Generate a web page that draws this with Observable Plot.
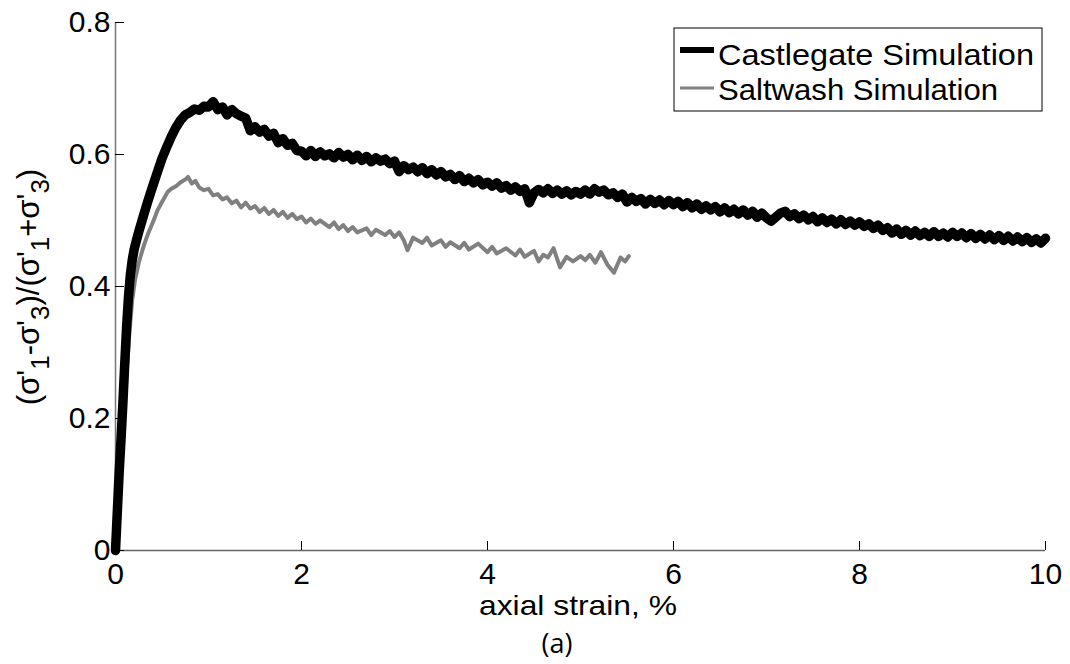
<!DOCTYPE html>
<html><head><meta charset="utf-8">
<script src="https://cdn.jsdelivr.net/npm/d3@7"></script>
<script src="https://cdn.jsdelivr.net/npm/@observablehq/plot@0.6"></script>
<style>
body{margin:0;background:#fff;width:1070px;height:664px;position:relative;overflow:hidden}
#cap{position:absolute;left:557px;top:627px;transform:translateX(-50%);font-family:"Open Sans",sans-serif;font-size:27px;line-height:32px;color:#000}
</style></head><body><div id="chart"></div><div id="cap">(a)</div>
<script>
const seriesNames = ["Castlegate Simulation", "Saltwash Simulation"];
const xTicks = [0, 2, 4, 6, 8, 10];
const yTicks = [0, 0.2, 0.4, 0.6, 0.8];

const castlegateStrain = [0,0.01,0.02,0.04,0.06,0.08,0.10,0.12,0.14,0.16,0.18,0.20,0.225,0.25,0.30,0.35,0.40,0.45,0.50,0.55,0.60,0.65,0.70,0.75,0.80,0.85,0.90,0.95,1.00,1.05,1.10,1.15,1.20,1.25,1.30,1.35,1.40,1.45,1.50,1.55,1.60,1.65,1.70,1.75,1.80,1.85,1.90,1.95,
2.00,2.05,2.10,2.15,2.20,2.25,2.30,2.35,2.40,2.45,2.50,2.55,2.60,2.65,2.70,2.75,2.80,2.85,2.90,2.95,
3.00,3.05,3.10,3.15,3.20,3.25,3.30,3.35,3.40,3.45,3.50,3.55,3.60,3.65,3.70,3.75,3.80,3.85,3.90,3.95,
4.00,4.05,4.10,4.15,4.20,4.25,4.30,4.35,4.40,4.45,4.50,4.55,4.60,4.65,4.70,4.75,4.80,4.85,4.90,4.95,
5.00,5.05,5.10,5.15,5.20,5.25,5.30,5.35,5.40,5.45,5.50,5.55,5.60,5.65,5.70,5.75,5.80,5.85,5.90,5.95,
6.00,6.05,6.10,6.15,6.20,6.25,6.30,6.35,6.40,6.45,6.50,6.55,6.60,6.65,6.70,6.75,6.80,6.85,6.90,6.95,
7.00,7.05,7.10,7.15,7.20,7.25,7.30,7.35,7.40,7.45,7.50,7.55,7.60,7.65,7.70,7.75,7.80,7.85,7.90,7.95,
8.00,8.05,8.10,8.15,8.20,8.25,8.30,8.35,8.40,8.45,8.50,8.55,8.60,8.65,8.70,8.75,8.80,8.85,8.90,8.95,
9.00,9.05,9.10,9.15,9.20,9.25,9.30,9.35,9.40,9.45,9.50,9.55,9.60,9.65,9.70,9.75,9.80,9.85,9.90,9.95,10.00];
const castlegateRatio = [0,0.03,0.06,0.12,0.17,0.225,0.285,0.34,0.385,0.418,0.44,0.456,0.47,0.483,0.507,0.53,0.552,0.573,0.594,0.611,0.627,0.641,0.652,0.660,0.664,0.669,0.667,0.673,0.672,0.680,0.668,0.672,0.660,0.668,0.662,0.658,0.655,0.636,0.642,0.634,0.638,0.628,0.632,0.618,0.624,0.614,0.617,0.606,
0.605,0.598,0.606,0.597,0.604,0.598,0.601,0.595,0.603,0.596,0.600,0.592,0.599,0.591,0.597,0.589,0.595,0.590,0.593,0.586,
0.590,0.574,0.583,0.577,0.581,0.574,0.580,0.571,0.577,0.569,0.574,0.566,0.570,0.562,0.568,0.559,0.564,0.557,0.562,0.554,
0.558,0.552,0.557,0.549,0.553,0.546,0.551,0.544,0.548,0.527,0.542,0.547,0.542,0.548,0.541,0.546,0.540,0.545,0.539,0.544,
0.540,0.546,0.540,0.548,0.543,0.546,0.539,0.542,0.535,0.540,0.528,0.535,0.529,0.533,0.525,0.532,0.526,0.531,0.524,0.530,
0.524,0.529,0.521,0.527,0.519,0.525,0.517,0.522,0.516,0.521,0.513,0.519,0.512,0.517,0.510,0.516,0.508,0.514,0.505,0.511,
0.504,0.499,0.505,0.511,0.514,0.506,0.510,0.503,0.508,0.501,0.506,0.498,0.504,0.497,0.502,0.495,0.501,0.494,0.499,0.493,
0.498,0.491,0.495,0.488,0.493,0.485,0.489,0.481,0.487,0.479,0.485,0.478,0.484,0.477,0.482,0.476,0.483,0.476,0.481,0.475,
0.482,0.476,0.481,0.474,0.480,0.473,0.479,0.472,0.478,0.471,0.477,0.470,0.476,0.469,0.475,0.468,0.474,0.467,0.472,0.466,0.473];

const saltwashStrain = [0,0.02,0.04,0.06,0.09,0.12,0.15,0.18,0.21,0.25,0.30,0.35,0.41,0.45,0.50,0.56,0.60,0.65,0.70,0.75,0.78,0.82,0.86,0.90,0.95,1.00,1.05,1.10,1.15,1.20,1.25,1.30,1.35,1.40,1.45,1.50,1.55,1.60,1.65,1.70,1.75,1.80,1.85,1.90,1.95,2.00,2.05,2.10,2.15,2.20,2.30,2.35,2.40,2.45,2.50,2.55,2.60,2.70,2.75,2.80,2.90,2.95,3.00,3.05,3.10,3.14,3.20,3.30,3.35,3.40,3.50,3.55,3.60,3.70,3.75,3.80,3.90,4.00,4.05,4.10,4.20,4.30,4.35,4.40,4.50,4.55,4.60,4.65,4.71,4.78,4.85,4.92,5.00,5.05,5.10,5.16,5.22,5.29,5.36,5.43,5.48,5.52];
const saltwashRatio = [0,0.055,0.105,0.15,0.205,0.27,0.33,0.38,0.41,0.436,0.46,0.48,0.50,0.515,0.528,0.543,0.548,0.552,0.558,0.562,0.566,0.556,0.560,0.550,0.546,0.548,0.538,0.540,0.532,0.535,0.526,0.530,0.520,0.527,0.518,0.522,0.513,0.519,0.510,0.516,0.507,0.513,0.504,0.510,0.502,0.506,0.497,0.503,0.495,0.500,0.490,0.497,0.487,0.493,0.484,0.490,0.482,0.488,0.478,0.486,0.478,0.484,0.475,0.482,0.470,0.455,0.474,0.466,0.474,0.462,0.470,0.460,0.467,0.458,0.466,0.456,0.465,0.452,0.460,0.450,0.458,0.447,0.456,0.445,0.454,0.438,0.448,0.444,0.458,0.429,0.445,0.438,0.446,0.440,0.448,0.436,0.452,0.433,0.421,0.444,0.438,0.446];

const castData = castlegateStrain.map((x, i) => ({x, y: castlegateRatio[i]}));
const saltData = saltwashStrain.map((x, i) => ({x, y: saltwashRatio[i]}));

const FONT = '"Liberation Sans", Arial, sans-serif';
const plot = Plot.plot({
  width: 1070, height: 620,
  marginLeft: 115, marginRight: 25, marginTop: 22, marginBottom: 70,
  style: {fontFamily: FONT, background: "#fff", color: "#000", overflow: "visible"},
  x: {domain: [0, 10]},
  y: {domain: [0, 0.8]},
  marks: [
    Plot.ruleX([0], {stroke: "#777", strokeWidth: 1.5}),
    Plot.ruleY([0], {stroke: "#666", strokeWidth: 1.5}),
    Plot.axisY(yTicks, {tickSize: -9, tickPadding: 14, fontSize: 30, tickFormat: d => String(d), label: null}),
    Plot.axisX(xTicks, {tickSize: -9, tickPadding: 21, fontSize: 30, tickFormat: d => String(d), label: null}),
    Plot.line(saltData, {x: "x", y: "y", stroke: "#808080", strokeWidth: 4, strokeLinejoin: "round", strokeLinecap: "round"}),
    Plot.line(castData, {x: "x", y: "y", stroke: "#000", strokeWidth: 9.5, strokeLinejoin: "round", strokeLinecap: "round"})
  ]
});
document.getElementById("chart").appendChild(plot);

const svg = d3.select(plot);
// x axis label
svg.append("text").attr("x", 578).attr("y", 615).attr("text-anchor", "middle")
  .attr("font-family", FONT).attr("font-size", 28).attr("fill", "#000")
  .attr("textLength", 198).attr("lengthAdjust", "spacingAndGlyphs").text("axial strain, %");
// y axis label with subscripts
const yl = svg.append("text").attr("transform", "translate(39,287) rotate(-90)")
  .attr("text-anchor", "middle").attr("font-family", FONT).attr("font-size", 31).attr("fill", "#000");
const parts = [["(σ'", 0], ["1", 1], ["-σ'", 0], ["3", 1], [")/(σ'", 0], ["1", 1], ["+σ'", 0], ["3", 1], [")", 0]];
let prevSub = 0;
for (const [t, sub] of parts) {
  const ts = yl.append("tspan").text(t);
  if (sub) ts.attr("font-size", 26);
  ts.attr("dy", sub - prevSub === 1 ? 10 : sub - prevSub === -1 ? -10 : 0);
  prevSub = sub;
}
// legend
const lg = svg.append("g").attr("text-anchor", "start");
lg.append("rect").attr("x", 674).attr("y", 28).attr("width", 368).attr("height", 83)
  .attr("fill", "#fff").attr("stroke", "#000").attr("stroke-width", 1);
const legendStyles = [{stroke: "#000", width: 6, ly: 50, ty: 65, len: 316}, {stroke: "#808080", width: 3, ly: 88, ty: 100, len: 280}];
seriesNames.forEach((name, i) => {
  const s = legendStyles[i];
  lg.append("line").attr("x1", 680).attr("x2", 714).attr("y1", s.ly).attr("y2", s.ly)
    .attr("stroke", s.stroke).attr("stroke-width", s.width);
  lg.append("text").attr("x", 718).attr("y", s.ty).attr("font-family", FONT).attr("font-size", 30)
    .attr("text-anchor", "start").attr("fill", "#000")
    .attr("textLength", s.len).attr("lengthAdjust", "spacingAndGlyphs").text(name);
});
</script></body></html>
